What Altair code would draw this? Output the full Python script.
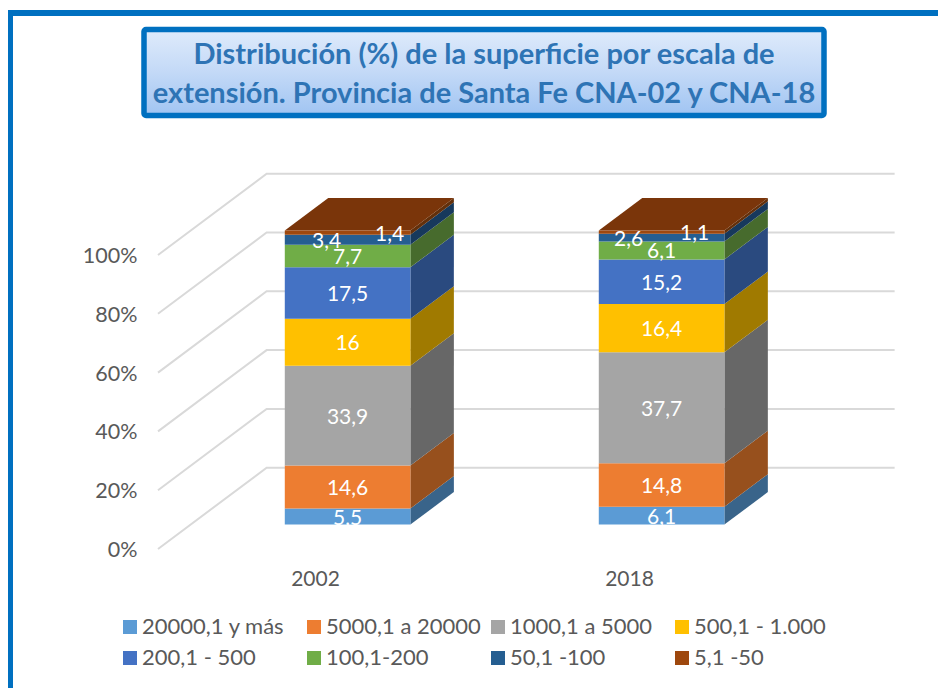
import altair as alt
import pandas as pd

years = ["2002", "2018"]
categories = ["20000,1 y más", "5000,1 a 20000", "1000,1 a 5000", "500,1 - 1.000",
              "200,1 - 500", "100,1-200", "50,1 -100", "5,1 -50"]
values_2002 = [5.5, 14.6, 33.9, 16, 17.5, 7.7, 3.4, 1.4]
values_2018 = [6.1, 14.8, 37.7, 16.4, 15.2, 6.1, 2.6, 1.1]
front_colors = ["#5B9BD5", "#ED7D31", "#A5A5A5", "#FFC000", "#4472C4", "#70AD47", "#255E91", "#9E480E"]
side_colors = ["#39648A", "#97501D", "#676767", "#A07A00", "#2A4A7F", "#476B2D", "#17395C", "#63300B"]
top_color = "#7A350A"
pct_ticks = [0, 20, 40, 60, 80, 100]
# horizontal nudges of crowded data labels, in category widths
label_nudge = {("2002", 6): -0.067, ("2002", 7): 0.134, ("2018", 6): -0.105, ("2018", 7): 0.105}

# pseudo-3D projection: category c, depth d (0 front .. 1 back), percent p
DEPTH_X, DEPTH_Y = 0.346, 27.65
BAR_L, BAR_R, D_FRONT, D_BACK = 0.30, 0.70, 0.30, 0.70
X_DOMAIN = [-0.4777, 2.4841]
Y_DOMAIN = [-47.28, 184.01]
W, H = 930, 680

xs = alt.Scale(domain=X_DOMAIN, nice=False, zero=False)
ys = alt.Scale(domain=Y_DOMAIN, nice=False, zero=False)
def px(c, d): return c + d * DEPTH_X
def py(p, d): return p + d * DEPTH_Y

front, side, top, labels = [], [], [], []
for i, (yr, vals) in enumerate(zip(years, [values_2002, values_2018])):
    total = sum(vals)
    cum = 0.0
    for j, v in enumerate(vals):
        p0 = cum / total * 100
        cum += v
        p1 = cum / total * 100
        seg = f"{yr}-{j}"
        front.append(dict(seg=seg, cat=categories[j],
                          x=px(i + BAR_L, D_FRONT), x2=px(i + BAR_R, D_FRONT),
                          y=py(p0, D_FRONT), y2=py(p1, D_FRONT)))
        for d in (D_FRONT, D_BACK):
            side.append(dict(seg=seg, fill=side_colors[j], x=px(i + BAR_R, d),
                             y=py(p0, d), y2=py(p1, d)))
        n = label_nudge.get((yr, j), 0)
        labels.append(dict(t=f"{v:g}".replace(".", ","),
                           x=px(i + 0.5 + n, D_FRONT), y=py((p0 + p1) / 2, D_FRONT)))
    for d in (D_FRONT, D_BACK):
        top.append(dict(yr=yr, y=py(100, d), x=px(i + BAR_L, d), x2=px(i + BAR_R, d)))

grid = []
for p in pct_ticks:
    grid += [dict(p=p, o=0, x=0, y=py(p, 0)),
             dict(p=p, o=1, x=DEPTH_X, y=py(p, 1)),
             dict(p=p, o=2, x=2 + DEPTH_X, y=py(p, 1))]

font = "Lato"
frame_col = "#0070C0"

ax_x = alt.Axis(values=[0.5, 1.5], labelExpr="datum.value < 1 ? '2002' : '2018'", title=None,
                domain=False, ticks=False, grid=False, offset=-120, labelPadding=0,
                labelFont=font, labelFontSize=21, labelColor="#595959")
ax_y = alt.Axis(values=pct_ticks, labelExpr="datum.value + '%'", title=None,
                domain=False, ticks=False, grid=False, offset=-129, labelPadding=0, labelOffset=1.5,
                labelFont=font, labelFontSize=21.5, labelColor="#595959")
X = alt.X("x:Q", scale=xs, axis=ax_x)
Y = alt.Y("y:Q", scale=ys, axis=ax_y)

frame_top = alt.Chart(pd.DataFrame({"a": [0]})).mark_rule(color=frame_col, strokeWidth=6).encode(
    x=alt.value(0), x2=alt.value(W), y=alt.value(5))
frame_left = alt.Chart(pd.DataFrame({"a": [0]})).mark_rule(color=frame_col, strokeWidth=6).encode(
    x=alt.value(2), y=alt.value(2), y2=alt.value(H))
box = alt.Chart(pd.DataFrame({"a": [0]})).mark_rect(
    fill=alt.LinearGradient(gradient="linear", x1=0, x2=0, y1=0, y2=1, stops=[
        alt.GradientStop(color="#DFEBFB", offset=0),
        alt.GradientStop(color="#C3D9F7", offset=0.5),
        alt.GradientStop(color="#A0C4F2", offset=1)]),
    stroke=frame_col, strokeWidth=5.5, cornerRadius=2).encode(
    x=alt.value(136), x2=alt.value(816), y=alt.value(21.5), y2=alt.value(107.5))

grid_l = alt.Chart(pd.DataFrame(grid)).mark_line(color="#D9D9D9", strokeWidth=2).encode(
    x=X, y=Y, detail="p:N", order="o:Q")

side_l = alt.Chart(pd.DataFrame(side)).mark_area(orient="vertical").encode(
    x=X, y=Y, y2="y2:Q", fill=alt.Fill("fill:N", scale=None), detail="seg:N")

top_l = alt.Chart(pd.DataFrame(top)).mark_area(orient="horizontal", color=top_color).encode(
    y=Y, x=X, x2="x2:Q", detail="yr:N")

front_l = alt.Chart(pd.DataFrame(front)).mark_rect().encode(
    x=X, x2="x2:Q", y=Y, y2="y2:Q",
    color=alt.Color("cat:N", sort=categories,
                    scale=alt.Scale(domain=categories, range=front_colors),
                    legend=alt.Legend(
                        title=None, orient="none", direction="horizontal",
                        legendX=111, legendY=608, columns=4,
                        gridAlign="all", symbolType="square", symbolSize=196,
                        symbolStrokeWidth=0, labelFont=font, labelFontSize=22, labelOffset=1,
                        labelColor="#595959", labelLimit=300, columnPadding=6, rowPadding=9)))

label_l = alt.Chart(pd.DataFrame(labels)).mark_text(
    color="white", font=font, fontSize=21, baseline="middle", align="center", dy=2).encode(
    x=X, y=Y, text="t:N")

chart = alt.layer(frame_top, frame_left, box, grid_l, side_l, top_l, front_l, label_l).properties(
    width=W, height=H, padding=0, background="white",
    autosize=alt.AutoSizeParams(type="none"),
    title=alt.TitleParams(
        text=["Distribución (%) de la superficie por escala de",
              "extensión. Provincia de Santa Fe CNA-02 y CNA-18"],
        anchor="middle", dx=11, offset=-102, font=font, fontSize=29, fontWeight="bold",
        color="#2E74B5", lineHeight=39, baseline="top"),
).configure_view(stroke=None)

chart.save("out.html", embed_options={"renderer": "svg", "actions": False})
